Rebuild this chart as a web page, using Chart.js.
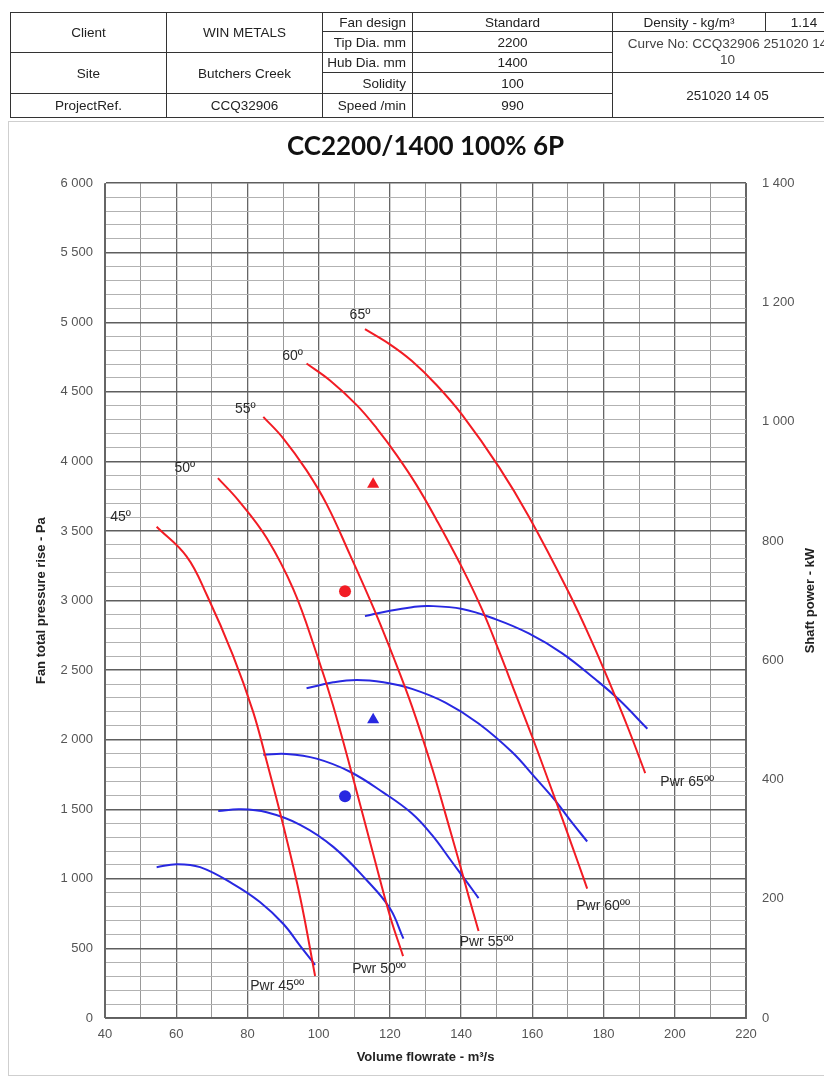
<!DOCTYPE html>
<html>
<head>
<meta charset="utf-8">
<script src="https://cdn.jsdelivr.net/npm/chart.js@4.4.1/dist/chart.umd.min.js"></script>
<style>
html,body{margin:0;padding:0;background:#fff;width:824px;height:1079px;overflow:hidden;}
#panel{position:absolute;left:8px;top:121px;width:840px;height:953px;border:1px solid #cfcfcf;}
#c{position:absolute;left:0;top:0;}
#hdr{position:absolute;left:0;top:0;width:824px;height:120px;overflow:hidden;}
#hdr table{position:absolute;left:10px;top:12px;width:832px;border-collapse:collapse;table-layout:fixed;
  font-family:"Liberation Sans",Arial,sans-serif;font-size:13.5px;color:#222;}
#hdr td{border:1px solid #333;text-align:center;padding:0 2px;white-space:nowrap;overflow:hidden;line-height:15px;}
#hdr td.lab{text-align:right;padding-right:6px;}
#hdr td.wrap{line-height:16px;color:#444;}
</style>
</head>
<body>
<div id="panel"></div>
<canvas id="c" width="824" height="1079"></canvas>
<div id="hdr">
<table>
<colgroup><col style="width:156px"><col style="width:156px"><col style="width:90px"><col style="width:200px"><col style="width:153px"><col style="width:77px"></colgroup>
<tr style="height:19px"><td rowspan="2">Client</td><td rowspan="2">WIN METALS</td><td class="lab">Fan design</td><td>Standard</td><td>Density - kg/m³</td><td>1.14</td></tr>
<tr style="height:21px"><td class="lab">Tip Dia. mm</td><td>2200</td><td colspan="2" rowspan="2" class="wrap">Curve No: CCQ32906 251020 14<br>10</td></tr>
<tr style="height:20px"><td rowspan="2">Site</td><td rowspan="2">Butchers Creek</td><td class="lab">Hub Dia. mm</td><td>1400</td></tr>
<tr style="height:21px"><td class="lab">Solidity</td><td>100</td><td colspan="2" rowspan="2">251020 14 05</td></tr>
<tr style="height:24px"><td>ProjectRef.</td><td>CCQ32906</td><td class="lab">Speed /min</td><td>990</td></tr>
</table>
</div>
<script>
// ---------- DATA ----------
const bladeAngles = ['45º', '50º', '55º', '60º', '65º'];

// Pressure curves: flow (m³/s) and fan total pressure rise (Pa)
const pr45Flow = [54.5, 62.9, 68.6, 75.9, 81.6, 85.4, 90.0, 94.8, 99.0];
const pr45Pa   = [3531, 3318, 3040, 2608, 2200, 1845, 1390, 868, 302];
const pr50Flow = [71.7, 77.4, 85.4, 92.9, 99.4, 104.0, 109.6, 115.3, 120.0, 123.7];
const pr50Pa   = [3880, 3722, 3450, 3080, 2620, 2250, 1730, 1180, 735, 445];
const pr55Flow = [84.45, 90.1, 96.6, 102.3, 108.8, 115.3, 120.9, 126.2, 131.8, 135.6, 139.3, 142.1, 144.9];
const pr55Pa   = [4321, 4165, 3936, 3690, 3329, 2953, 2600, 2240, 1800, 1467, 1135, 876, 625];
const pr60Flow = [96.6, 103.2, 110.7, 116.3, 121.9, 127.5, 133.1, 140.3, 145.9, 150.6, 155.2, 159.9, 164.6, 169.3, 173.0, 175.4];
const pr60Pa   = [4704, 4582, 4405, 4238, 4046, 3830, 3580, 3235, 2935, 2640, 2335, 2025, 1700, 1370, 1105, 930];
const pr65Flow = [113.0, 120.0, 126.2, 133.1, 140.3, 150.6, 159.0, 170.2, 176.8, 182.4, 187.1, 191.7];
const pr65Pa   = [4951, 4842, 4722, 4550, 4335, 3961, 3605, 3060, 2700, 2365, 2070, 1760];

// Power curves: flow (m³/s) and shaft power (kW)
const pw45Flow = [54.5, 60.1, 66.7, 75.9, 83.5, 90.1, 94.8, 99.0];
const pw45kW   = [253, 258, 253, 225, 194.5, 157.6, 121, 89];
const pw50Flow = [71.8, 77.9, 85.4, 94.8, 104.1, 113.5, 120.0, 123.8];
const pw50kW   = [347, 350, 345, 324, 287, 231, 184, 133];
const pw55Flow = [84.45, 91.0, 99.4, 108.8, 118.2, 126.2, 131.8, 137.4, 142.1, 144.9];
const pw55kW   = [441.6, 442.8, 435, 413, 378, 343, 307, 262, 224, 201];
const pw60Flow = [96.6, 104.1, 110.7, 118.2, 126.2, 135.6, 144.9, 154.3, 160.8, 166.5, 171.1, 175.4];
const pw60kW   = [553, 563, 567, 563, 552, 529, 494, 446, 403, 364, 328, 296];
const pw65Flow = [113.0, 120.0, 126.2, 130.9, 140.3, 149.6, 159.0, 168.3, 177.7, 184.3, 192.3];
const pw65kW   = [674, 683, 689, 691, 686, 669, 645, 612, 568, 534, 485];

// Duty points (circle, triangle)
const dutyFlow     = [107.4, 115.3];
const dutyPressure = [3068, 3837];
const dutyPower    = [372, 500];

// Tick labels
const flowTickLabels     = ['40', '60', '80', '100', '120', '140', '160', '180', '200', '220'];
const pressureTickLabels = ['0', '500', '1 000', '1 500', '2 000', '2 500', '3 000', '3 500', '4 000', '4 500', '5 000', '5 500', '6 000'];
const powerTickLabels    = ['0', '200', '400', '600', '800', '1 000', '1 200', '1 400'];

// ---------- BUILD ----------
const RED = 'rgb(242,28,36)';
const BLUE = 'rgb(40,40,225)';
const zip = (xs, ys) => xs.map((x, i) => ({x: x, y: ys[i]}));
const prSets = [[pr45Flow, pr45Pa], [pr50Flow, pr50Pa], [pr55Flow, pr55Pa], [pr60Flow, pr60Pa], [pr65Flow, pr65Pa]];
const pwSets = [[pw45Flow, pw45kW], [pw50Flow, pw50kW], [pw55Flow, pw55kW], [pw60Flow, pw60kW], [pw65Flow, pw65kW]];

const datasets = [];
prSets.forEach((s, i) => datasets.push({
  label: bladeAngles[i], data: zip(s[0], s[1]), yAxisID: 'y', borderColor: RED, borderWidth: 2,
  pointRadius: 0, showLine: true, fill: false, tension: 0.4
}));
pwSets.forEach((s, i) => datasets.push({
  label: 'Pwr ' + bladeAngles[i] + 'º', data: zip(s[0], s[1]), yAxisID: 'y2', borderColor: BLUE, borderWidth: 2,
  pointRadius: 0, showLine: true, fill: false, tension: 0.4
}));
datasets.push({label: 'Duty pressure', data: zip(dutyFlow, dutyPressure), yAxisID: 'y', showLine: false,
  pointStyle: ['circle', 'triangle'], pointRadius: [6, 7], backgroundColor: RED, borderColor: RED, borderWidth: 0});
datasets.push({label: 'Duty power', data: zip(dutyFlow, dutyPower), yAxisID: 'y2', showLine: false,
  pointStyle: ['circle', 'triangle'], pointRadius: [6, 7], backgroundColor: BLUE, borderColor: BLUE, borderWidth: 0});

const angleLabelOffset = [[-36, -10], [-33, -10], [-18, -8], [-14, -7], [-5, -14]];
const pwrLabelOffset = [[-38, 10], [-24, 13], [8, 11], [16, 18], [42, 9]];

const labelPlugin = {
  id: 'curveLabels',
  afterDatasetsDraw(chart) {
    const ctx = chart.ctx, xs = chart.scales.x, ys = chart.scales.y;
    ctx.save();
    ctx.fillStyle = '#2a2a2a';
    ctx.textAlign = 'center';
    ctx.textBaseline = 'middle';
    ctx.font = '14px "Liberation Sans", Arial, sans-serif';
    prSets.forEach((s, i) => {
      const n = s[0].length;
      const x0 = xs.getPixelForValue(s[0][0]), y0 = ys.getPixelForValue(s[1][0]);
      ctx.fillText(bladeAngles[i], x0 + angleLabelOffset[i][0], y0 + angleLabelOffset[i][1]);
      const x1 = xs.getPixelForValue(s[0][n - 1]), y1 = ys.getPixelForValue(s[1][n - 1]);
      ctx.fillText('Pwr ' + bladeAngles[i] + 'º', x1 + pwrLabelOffset[i][0], y1 + pwrLabelOffset[i][1]);
    });
    // right axis title, reading bottom-to-top
    const y2 = chart.scales.y2;
    ctx.font = 'bold 13px "Liberation Sans", Arial, sans-serif';
    ctx.fillStyle = '#222';
    ctx.translate(810, (y2.top + y2.bottom) / 2);
    ctx.rotate(-Math.PI / 2);
    ctx.fillText('Shaft power - kW', 0, 0);
    ctx.restore();
  }
};

const tickFont = {family: '"Liberation Sans", Arial, sans-serif', size: 13};
const titleFont = {family: '"Liberation Sans", Arial, sans-serif', size: 13, weight: 'bold'};

new Chart(document.getElementById('c'), {
  type: 'scatter',
  data: {datasets: datasets},
  options: {
    responsive: false,
    animation: false,
    layout: {padding: 0},
    plugins: {
      legend: {display: false},
      tooltip: {enabled: false},
      title: {
        display: true, text: 'CC2200/1400 100% 6P', fullSize: false, color: '#111',
        font: {family: 'Lato, "Open Sans", sans-serif', size: 26, weight: 'bold'},
        padding: {top: 131, bottom: 21}
      }
    },
    scales: {
      x: {
        type: 'linear', min: 40, max: 220,
        afterFit: (s) => { s.height = 61; },
        ticks: {
          stepSize: 10, autoSkip: false, maxRotation: 0, padding: 9, color: '#555', font: tickFont,
          callback: (v) => { const i = flowTickLabels.indexOf(String(v)); return i >= 0 ? flowTickLabels[i] : ''; }
        },
        grid: {
          drawTicks: false,
          color: (c) => (c.tick && c.tick.value % 20 === 0) ? '#666' : '#999',
          lineWidth: (c) => (c.tick && c.tick.value % 20 === 0) ? 1.3 : 1
        },
        border: {display: true, color: '#666'},
        title: {display: true, text: 'Volume flowrate - m³/s', color: '#222', font: titleFont, padding: {bottom: 14, top: 0}}
      },
      y: {
        type: 'linear', position: 'left', min: 0, max: 6000,
        afterFit: (s) => { s.width = 105; },
        ticks: {
          stepSize: 100, autoSkip: false, maxTicksLimit: 1000, padding: 12, color: '#555', font: tickFont,
          callback: (v) => v % 500 === 0 ? pressureTickLabels[v / 500] : ''
        },
        grid: {
          drawTicks: false,
          color: (c) => (c.tick && c.tick.value % 500 === 0) ? '#5e5e5e' : '#b2b2b2',
          lineWidth: (c) => (c.tick && c.tick.value % 500 === 0) ? 1.5 : 1
        },
        border: {display: true, color: '#666'},
        title: {display: true, text: 'Fan total pressure rise - Pa', color: '#222', font: titleFont, padding: {top: 34, bottom: 0}}
      },
      y2: {
        type: 'linear', position: 'right', min: 0, max: 1400,
        afterFit: (s) => { s.width = 78; },
        ticks: {
          stepSize: 200, autoSkip: false, padding: 16, color: '#555', font: tickFont,
          callback: (v) => powerTickLabels[v / 200]
        },
        grid: {drawOnChartArea: false, drawTicks: false},
        border: {display: true, color: '#666'},
        title: {display: false}
      }
    }
  },
  plugins: [labelPlugin]
});
</script>
</body>
</html>
